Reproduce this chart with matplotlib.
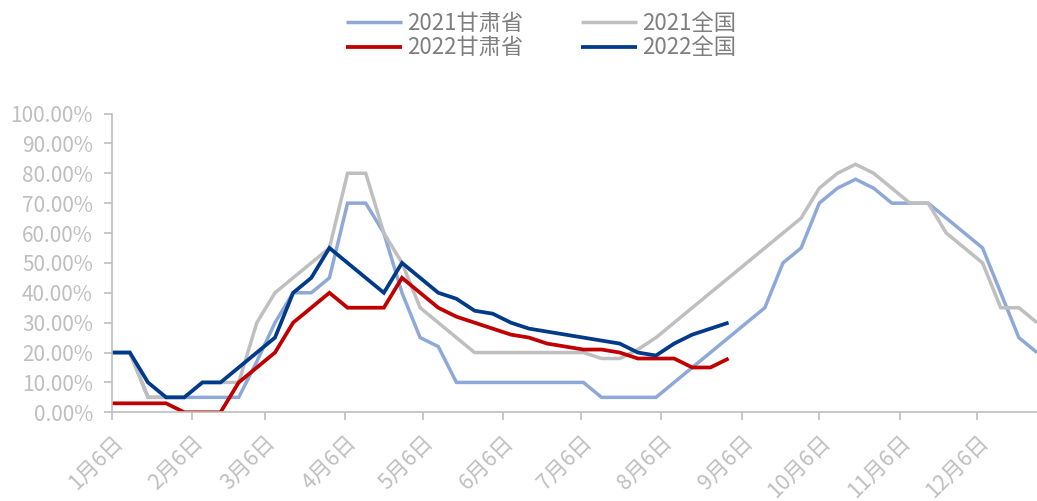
import datetime as dt
import matplotlib
matplotlib.use("Agg")
import matplotlib.pyplot as plt
from matplotlib.ticker import FuncFormatter, MultipleLocator

plt.rcParams['font.family'] = ['Noto Sans CJK SC', 'DejaVu Sans']

# ---- data (weekly observations, starting on 1月6日) ----
start_date = dt.date(2022, 1, 6)
gansu_2021 = [20, 20, 5, 5, 5, 5, 5, 5, 17, 30, 40, 40, 45, 70, 70, 60, 40, 25, 22, 10,
              10, 10, 10, 10, 10, 10, 10, 5, 5, 5, 5, 10, 15, 20, 25, 30, 35, 50, 55, 70,
              75, 78, 75, 70, 70, 70, 65, 60, 55, 40, 25, 20]
national_2021 = [20, 20, 5, 5, 5, 10, 10, 10, 30, 40, 45, 50, 55, 80, 80, 60, 50, 35, 30, 25,
                 20, 20, 20, 20, 20, 20, 20, 18, 18, 21, 25, 30, 35, 40, 45, 50, 55, 60, 65, 75,
                 80, 83, 80, 75, 70, 70, 60, 55, 50, 35, 35, 30]
gansu_2022 = [3, 3, 3, 3, 0, 0, 0, 10, 15, 20, 30, 35, 40, 35, 35, 35, 45, 40, 35, 32,
              30, 28, 26, 25, 23, 22, 21, 21, 20, 18, 18, 18, 15, 15, 18]
national_2022 = [20, 20, 10, 5, 5, 10, 10, 15, 20, 25, 40, 45, 55, 50, 45, 40, 50, 45, 40, 38,
                 34, 33, 30, 28, 27, 26, 25, 24, 23, 20, 19, 23, 26, 28, 30]
tick_months = list(range(1, 13))
tick_labels = [f"{m}月6日" for m in tick_months]
labels = ["2021甘肃省", "2021全国", "2022甘肃省", "2022全国"]
colors = ["#8EA9D8", "#BFBFBF", "#C00000", "#023A8A"]


def dates_for(values):
    return [start_date + dt.timedelta(days=7 * i) for i in range(len(values))]


fig = plt.figure(figsize=(10.37, 5.01), dpi=100)
ax = fig.add_axes([111.7 / 1037, 88.7 / 501, (1037 - 111.7) / 1037, 298.8 / 501])

series = [gansu_2021, national_2021, gansu_2022, national_2022]
widths = [2.5, 2.5, 2.7, 2.7]
handles = {}
for vals, lab, col, lw in zip(series, labels, colors, widths):
    ln, = ax.plot(dates_for(vals), [v / 100 for v in vals], color=col, lw=lw,
                  label=lab, solid_joinstyle='miter', solid_capstyle='butt')
    handles[lab] = ln

ax.set_ylim(0, 1.0)
ax.set_xlim(start_date, start_date + dt.timedelta(days=357))
ax.yaxis.set_major_locator(MultipleLocator(0.1))
ax.yaxis.set_major_formatter(FuncFormatter(lambda v, p: f"{v * 100:.2f}%"))
ax.set_xticks([dt.date(2022, m, 6) for m in tick_months])
ax.set_xticklabels(tick_labels, rotation=45, ha='right', va='top', rotation_mode='anchor')

for s in ['top', 'right']:
    ax.spines[s].set_visible(False)
for s in ['left', 'bottom']:
    ax.spines[s].set_color('#BFBFBF')
    ax.spines[s].set_linewidth(1.2)
ax.tick_params(axis='both', colors='#BFBFBF', length=5.5, width=1.2,
               labelcolor='#BFBFBF')
ax.tick_params(axis='y', pad=8, labelsize=15)
ax.tick_params(axis='x', pad=8, labelsize=15.5)
for t in ax.get_xticklabels() + ax.get_yticklabels():
    t.set_fontweight('light')

order = ["2021甘肃省", "2022甘肃省", "2021全国", "2022全国"]
leg = fig.legend([handles[k] for k in order], order, ncol=2, loc='upper center',
                 bbox_to_anchor=(0.522, 1.0), frameon=False, fontsize=16,
                 handlelength=2.5, handletextpad=0.25, columnspacing=2.6,
                 labelspacing=0.05, borderaxespad=0.15)
for t in leg.get_texts():
    t.set_color('#7F7F7F')

fig.savefig("out.png", dpi=100)
